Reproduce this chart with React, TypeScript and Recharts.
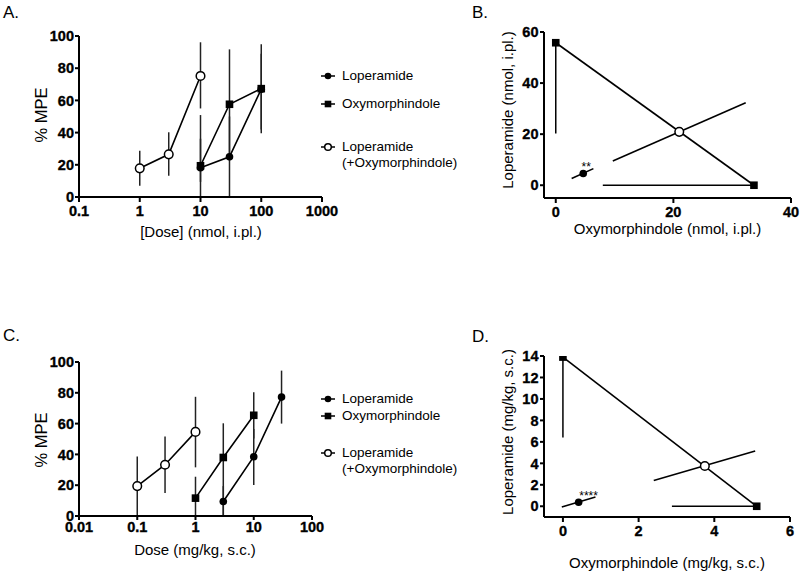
import React from "react";
import { ScatterChart, Scatter, XAxis, YAxis, ErrorBar } from "recharts";

const FONT = '"Liberation Sans", Arial, Helvetica, sans-serif';

// Panel A: intraplantar dose-response (%MPE vs dose, nmol)
const aTicksX = [0.1, 1, 10, 100, 1000];
const mpeTicks = [0, 20, 40, 60, 80, 100];
const aLopDose = [10, 30, 100];
const aLopMpe = [18.2, 25, 67];
const aLopErr = [[18.2, 18], [25, 25], [25, 22]];
const aOxyDose = [10, 30, 100];
const aOxyMpe = [19.4, 57.6, 67.3];
const aOxyErr = [[10, 31.5], [35, 34.1], [27.7, 27.5]];
const aComboDose = [1, 3, 10];
const aComboMpe = [17.8, 26.5, 75.2];
const aComboErr = [[10.8, 11], [13.3, 13.7], [20.2, 20.9]];

// Panel C: systemic dose-response (%MPE vs dose, mg/kg)
const cTicksX = [0.01, 0.1, 1, 10, 100];
const cLopDose = [3, 10, 30];
const cLopMpe = [9.4, 38.5, 77.2];
const cLopErr = [[9.4, 10], [18.3, 18], [17.2, 17.2]];
const cOxyDose = [1, 3, 10];
const cOxyMpe = [11.6, 38, 65.4];
const cOxyErr = [[11.6, 13.9], [38, 22.2], [15, 15]];
const cComboDose = [0.1, 0.3, 1];
const cComboMpe = [19.4, 33.3, 54.6];
const cComboErr = [[19.4, 19.3], [18.3, 18.3], [23, 22.8]];

// Panel B: isobologram, nmol i.pl.
const bTicksX = [0, 20, 40];
const bTicksY = [0, 20, 40, 60];
const bAloneX = [0, 33.7];
const bAloneY = [55.8, 0];
const bAloneErrY = [[35.5, 0], [0, 0]];
const bAloneErrX = [[0, 0], [25.7, 0]];
const bTheoX = [21.0];
const bTheoY = [20.9];
const bTheoCiX = [9.7, 32.3];
const bTheoCiY = [9.5, 32.3];
const bExpX = [4.67];
const bExpY = [4.6];
const bExpCiX = [2.7, 6.4];
const bExpCiY = [2.6, 6.5];
const bSig = ["**"];

// Panel D: isobologram, mg/kg s.c.
const dTicksX = [0, 2, 4, 6];
const dTicksY = [0, 2, 4, 6, 8, 10, 12, 14];
const dAloneX = [0, 5.12];
const dAloneY = [13.9, 0];
const dAloneErrY = [[7.5, 0], [0, 0]];
const dAloneErrX = [[0, 0], [2.24, 0]];
const dTheoX = [3.75];
const dTheoY = [3.75];
const dTheoCiX = [2.4, 5.08];
const dTheoCiY = [2.4, 5.14];
const dExpX = [0.415];
const dExpY = [0.37];
const dExpCiX = [-0.03, 0.86];
const dExpCiY = [-0.06, 0.87];
const dSig = ["****"];

const legendLines = [["Loperamide"], ["Oxymorphindole"], ["Loperamide", "(+Oxymorphindole)"]];

const pts = (xs: number[], ys: number[], e?: number[][]) =>
  xs.map((x, i) => ({ x, y: ys[i], e: e ? e[i] : undefined }));

const FilledDot = (p: any) => <circle cx={p.cx} cy={p.cy} r={3.8} fill="#000" />;
const FilledSquare = (p: any) => (
  <rect x={p.cx - 3.8} y={p.cy - 3.8} width={7.6} height={7.6} fill="#000" />
);
const OpenDot = (p: any) => (
  <circle cx={p.cx} cy={p.cy} r={4.3} fill="#fff" stroke="#000" strokeWidth={1.5} />
);
const NoMark = () => <g />;
const sigDot = (dx: number) => (p: any) => (
  <g>
    <circle cx={p.cx} cy={p.cy} r={3.8} fill="#000" />
    <text x={p.cx + dx} y={p.cy - 2} textAnchor="middle" fontSize={12} fontFamily={FONT} fill="#000">
      {p.payload.sig}
    </text>
  </g>
);

// bold tick labels, like the Prism original
const boldStyle = { fontWeight: 700, fontFamily: FONT, fontSize: 14.5 };
const XTick = (p: any) => (
  <text x={p.x} y={p.y} dy="0.71em" textAnchor="middle" style={boldStyle} fill="#000" stroke="#000" strokeWidth={0.35}>
    {p.payload.value}
  </text>
);
const YTick = (p: any) => (
  <text x={p.x} y={p.y} dy="0.36em" textAnchor="end" style={boldStyle} fill="#000" stroke="#000" strokeWidth={0.35}>
    {p.payload.value}
  </text>
);

const lineStyle = { stroke: "#000", strokeWidth: 1.6 };
const axisLine = { stroke: "#000", strokeWidth: 2 };

function Txt({ x, y, text, size = 15, rotate = false }: any) {
  return (
    <div
      style={{
        position: "absolute",
        left: x,
        top: y,
        transform: `translate(-50%, -50%)${rotate ? " rotate(-90deg)" : ""}`,
        whiteSpace: "nowrap",
        fontFamily: FONT,
        fontSize: size,
        lineHeight: 1,
        color: "#000",
      }}
    >
      {text}
    </div>
  );
}

function Letter({ x, y, text }: any) {
  return (
    <div style={{ position: "absolute", left: x, top: y, fontFamily: FONT, fontSize: 17, lineHeight: 1 }}>
      {text}
    </div>
  );
}

function LegendMark({ kind }: { kind: number }) {
  return (
    <svg width={16} height={10} style={{ display: "block" }}>
      <line x1={1} y1={5} x2={15} y2={5} stroke="#000" strokeWidth={1.5} />
      {kind === 0 && <circle cx={8} cy={5} r={3.3} fill="#000" />}
      {kind === 1 && <rect x={4.7} y={1.7} width={6.6} height={6.6} fill="#000" />}
      {kind === 2 && <circle cx={8} cy={5} r={3.3} fill="#fff" stroke="#000" strokeWidth={1.5} />}
    </svg>
  );
}

function DoseLegend({ rows, gap }: { rows: number[]; gap: number }) {
  return (
    <>
      {legendLines.map((lines, i) => (
        <React.Fragment key={i}>
          <div style={{ position: "absolute", left: 320, top: rows[i] - 5 }}>
            <LegendMark kind={i} />
          </div>
          {lines.map((t, j) => (
            <div
              key={j}
              style={{
                position: "absolute",
                left: 342,
                top: rows[i] + j * gap - 8,
                height: 16,
                lineHeight: "16px",
                fontFamily: FONT,
                fontSize: 13.5,
                whiteSpace: "nowrap",
              }}
            >
              {t}
            </div>
          ))}
        </React.Fragment>
      ))}
    </>
  );
}

function DosePanel({ left, top, width, height, margin, xDomain, xTicks, xHeight, xTickSize, xTickMargin, lop, oxy, combo }: any) {
  return (
    <div style={{ position: "absolute", left, top }}>
      <ScatterChart width={width} height={height} margin={margin}>
        <XAxis
          type="number"
          dataKey="x"
          scale="log"
          domain={xDomain}
          ticks={xTicks}
          allowDataOverflow
          interval={0}
          height={xHeight}
          axisLine={axisLine}
          tickLine={axisLine}
          tickSize={xTickSize}
          tickMargin={xTickMargin}
          tick={XTick}
        />
        <YAxis
          type="number"
          dataKey="y"
          domain={[0, 100]}
          ticks={mpeTicks}
          allowDataOverflow
          interval={0}
          width={79}
          axisLine={axisLine}
          tickLine={axisLine}
          tickSize={4}
          tickMargin={1}
          tick={YTick}
        />
        <Scatter data={lop} fill="#000" line={lineStyle} lineType="joint" shape={FilledDot} isAnimationActive={false}>
          <ErrorBar dataKey="e" direction="y" width={0} stroke="#222" strokeWidth={1.5} isAnimationActive={false} />
        </Scatter>
        <Scatter data={oxy} fill="#000" line={lineStyle} lineType="joint" shape={FilledSquare} isAnimationActive={false}>
          <ErrorBar dataKey="e" direction="y" width={0} stroke="#222" strokeWidth={1.5} isAnimationActive={false} />
        </Scatter>
        <Scatter data={combo} fill="#000" line={lineStyle} lineType="joint" shape={OpenDot} isAnimationActive={false}>
          <ErrorBar dataKey="e" direction="y" width={0} stroke="#222" strokeWidth={1.5} isAnimationActive={false} />
        </Scatter>
      </ScatterChart>
    </div>
  );
}

function IsoPanel({ left, top, width, height, margin, xDomain, xTicks, yDomain, yTicks, xHeight, alone, theo, theoCi, exp, expCi, sigDx }: any) {
  return (
    <div style={{ position: "absolute", left, top }}>
      <ScatterChart width={width} height={height} margin={margin}>
        <XAxis
          type="number"
          dataKey="x"
          domain={xDomain}
          ticks={xTicks}
          allowDataOverflow
          interval={0}
          height={xHeight}
          axisLine={axisLine}
          tickLine={axisLine}
          tickSize={5}
          tickMargin={4}
          tick={XTick}
        />
        <YAxis
          type="number"
          dataKey="y"
          domain={yDomain}
          ticks={yTicks}
          allowDataOverflow
          interval={0}
          width={64}
          axisLine={axisLine}
          tickLine={axisLine}
          tickSize={4}
          tickMargin={1.5}
          tick={YTick}
        />
        <Scatter data={theoCi} fill="#000" line={lineStyle} shape={NoMark} isAnimationActive={false} />
        <Scatter data={expCi} fill="#000" line={lineStyle} shape={NoMark} isAnimationActive={false} />
        <Scatter data={alone} fill="#000" line={lineStyle} shape={FilledSquare} isAnimationActive={false}>
          <ErrorBar dataKey="ey" direction="y" width={0} stroke="#000" strokeWidth={1.5} isAnimationActive={false} />
          <ErrorBar dataKey="ex" direction="x" width={0} stroke="#000" strokeWidth={1.5} isAnimationActive={false} />
        </Scatter>
        <Scatter data={theo} fill="#000" shape={OpenDot} isAnimationActive={false} />
        <Scatter data={exp} fill="#000" shape={sigDot(sigDx)} isAnimationActive={false} />
      </ScatterChart>
    </div>
  );
}

const alonePts = (xs: number[], ys: number[], ey: number[][], ex: number[][]) =>
  xs.map((x, i) => ({ x, y: ys[i], ey: ey[i], ex: ex[i] }));
const sigPts = (xs: number[], ys: number[], s: string[]) =>
  xs.map((x, i) => ({ x, y: ys[i], sig: s[i] }));

export default function App() {
  return (
    <div style={{ position: "absolute", left: 0, top: 0, width: 800, height: 571, background: "#fff", overflow: "hidden" }}>
      <Letter x={3} y={4} text="A." />
      <Letter x={472} y={4} text="B." />
      <Letter x={3} y={327} text="C." />
      <Letter x={472} y={327.5} text="D." />

      <DosePanel
        left={0}
        top={0}
        width={340}
        height={260}
        margin={{ top: 36, right: 18, bottom: 0, left: 0 }}
        xDomain={[0.1, 1000]}
        xTicks={aTicksX}
        xHeight={63}
        xTickSize={5}
        xTickMargin={4}
        lop={pts(aLopDose, aLopMpe, aLopErr)}
        oxy={pts(aOxyDose, aOxyMpe, aOxyErr)}
        combo={pts(aComboDose, aComboMpe, aComboErr)}
      />
      <Txt x={41} y={115} text="% MPE" size={16.5} rotate />
      <Txt x={201} y={231} text="[Dose] (nmol, i.pl.)" />
      <DoseLegend rows={[76, 104, 147]} gap={15.5} />

      <IsoPanel
        left={480}
        top={0}
        width={320}
        height={260}
        margin={{ top: 32, right: 9, bottom: 0, left: 0 }}
        xDomain={[-2, 40]}
        xTicks={bTicksX}
        yDomain={[-5, 60]}
        yTicks={bTicksY}
        xHeight={62}
        alone={alonePts(bAloneX, bAloneY, bAloneErrY, bAloneErrX)}
        theo={pts(bTheoX, bTheoY)}
        theoCi={pts(bTheoCiX, bTheoCiY)}
        exp={sigPts(bExpX, bExpY, bSig)}
        expCi={pts(bExpCiX, bExpCiY)}
        sigDx={3}
      />
      <Txt x={507} y={110} text="Loperamide (nmol, i.pl.)" rotate />
      <Txt x={667.5} y={228} text="Oxymorphindole (nmol, i.pl.)" />

      <DosePanel
        left={0}
        top={300}
        width={340}
        height={271}
        margin={{ top: 62, right: 28, bottom: 0, left: 0 }}
        xDomain={[0.01, 100]}
        xTicks={cTicksX}
        xHeight={55}
        xTickSize={4}
        xTickMargin={2}
        lop={pts(cLopDose, cLopMpe, cLopErr)}
        oxy={pts(cOxyDose, cOxyMpe, cOxyErr)}
        combo={pts(cComboDose, cComboMpe, cComboErr)}
      />
      <Txt x={41} y={440} text="% MPE" size={16.5} rotate />
      <Txt x={195} y={549} text="Dose (mg/kg, s.c.)" />
      <DoseLegend rows={[398.5, 416, 452.5]} gap={16.5} />

      <IsoPanel
        left={480}
        top={300}
        width={320}
        height={271}
        margin={{ top: 56, right: 10, bottom: 0, left: 0 }}
        xDomain={[-0.5, 6]}
        xTicks={dTicksX}
        yDomain={[-1, 14]}
        yTicks={dTicksY}
        xHeight={54}
        alone={alonePts(dAloneX, dAloneY, dAloneErrY, dAloneErrX)}
        theo={pts(dTheoX, dTheoY)}
        theoCi={pts(dTheoCiX, dTheoCiY)}
        exp={sigPts(dExpX, dExpY, dSig)}
        expCi={pts(dExpCiX, dExpCiY)}
        sigDx={10}
      />
      <Txt x={507} y={432} text="Loperamide (mg/kg, s.c.)" rotate />
      <Txt x={667} y={562} text="Oxymorphindole (mg/kg, s.c.)" />
    </div>
  );
}
